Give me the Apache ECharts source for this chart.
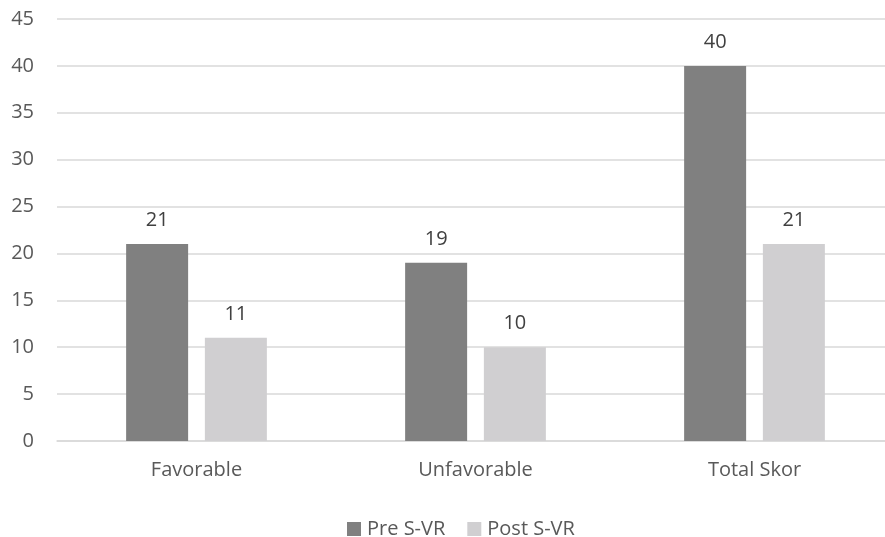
<!DOCTYPE html>
<html>
<head>
<meta charset="utf-8">
<script src="https://cdn.jsdelivr.net/npm/echarts@6/dist/echarts.min.js"></script>
<style>
html,body{margin:0;padding:0;background:#fff;}
#c{width:885px;height:537px;}
</style>
</head>
<body>
<div id="c"></div>
<script>
const categories = ["Favorable", "Unfavorable", "Total Skor"];
const preValues = [21, 19, 40];
const postValues = [11, 10, 21];
const seriesNames = ["Pre S-VR", "Post S-VR"];

const FONT = "'Open Sans', sans-serif";
const chart = echarts.init(document.getElementById('c'));
const labelCfg = {show: true, position: 'top', distance: 14, color: '#404040', fontSize: 20, fontFamily: FONT};
chart.setOption({
  animation: false,
  textStyle: {fontFamily: FONT},
  grid: {left: 57, top: 19, right: -9, bottom: 96, containLabel: false, outerBoundsMode: 'none'},
  legend: {
    top: 514, left: 342, itemWidth: 14, itemHeight: 14, itemGap: 22,
    icon: 'rect',
    textStyle: {color: '#595959', fontSize: 20, fontFamily: FONT, padding: [0, 0, 0, 1]},
    data: seriesNames
  },
  xAxis: {
    type: 'category', data: categories,
    axisLine: {show: true, lineStyle: {color: '#d9d9d9', width: 1.5}},
    axisTick: {show: false},
    axisLabel: {color: '#595959', fontSize: 20, fontFamily: FONT, margin: 19}
  },
  yAxis: {
    type: 'value', min: 0, max: 45, interval: 5,
    axisLine: {show: false}, axisTick: {show: false},
    splitLine: {lineStyle: {color: '#d9d9d9', width: 1.5}},
    axisLabel: {color: '#595959', fontSize: 20, fontFamily: FONT, margin: 23}
  },
  series: [
    {name: seriesNames[0], type: 'bar', data: preValues, barWidth: 62, barGap: '27%',
     itemStyle: {color: '#808080'}, label: labelCfg},
    {name: seriesNames[1], type: 'bar', data: postValues, barWidth: 62,
     itemStyle: {color: '#d0cfd1'}, label: labelCfg}
  ]
});
</script>
</body>
</html>
